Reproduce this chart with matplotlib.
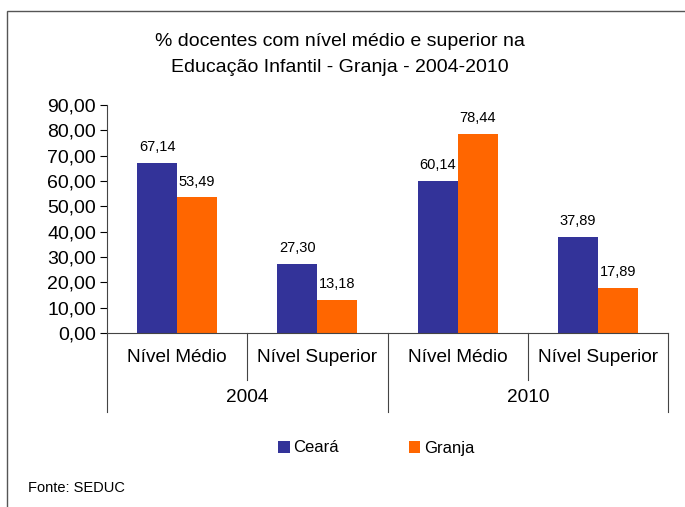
import numpy as np
import matplotlib
matplotlib.use('Agg')
import matplotlib.pyplot as plt
from matplotlib.patches import Rectangle

plt.rcParams['font.family'] = ['Liberation Sans', 'DejaVu Sans']

# dados
anos = ['2004', '2010']
niveis = ['Nível Médio', 'Nível Superior', 'Nível Médio', 'Nível Superior']
ceara = [67.14, 27.30, 60.14, 37.89]
granja = [53.49, 13.18, 78.44, 17.89]
series = ['Ceará', 'Granja']
cores = ['#333399', '#FF6600']

def br(v):
    return f"{v:.2f}".replace('.', ',')

fig = plt.figure(figsize=(6.85, 5.07), dpi=100)
W, H = 685, 507
ax = fig.add_axes([107/W, 1-333/H, (668-107)/W, (333-105)/H])

x = np.arange(len(niveis))
w = 0.286
b1 = ax.bar(x - w/2, ceara, w, color=cores[0], label=series[0])
b2 = ax.bar(x + w/2, granja, w, color=cores[1], label=series[1])
for bars, vals in [(b1, ceara), (b2, granja)]:
    for r, v in zip(bars, vals):
        ax.text(r.get_x() + r.get_width()/2, v + 3.5, br(v), ha='center', va='bottom', fontsize=10.5)

ax.set_xlim(-0.5, len(niveis) - 0.5)
ax.set_ylim(0, 90)
ax.set_yticks(np.arange(0, 91, 10))
ax.set_yticklabels([br(v) for v in np.arange(0, 91, 10)], fontsize=14)
ax.tick_params(axis='y', length=5, width=0.8, pad=3)
ax.set_xticks([])
for s in ['top', 'right']:
    ax.spines[s].set_visible(False)
ax.spines['left'].set_color('#444444')
ax.spines['bottom'].set_color('#444444')

# rótulos de categoria em dois níveis
trans = ax.get_xaxis_transform()
for i, n in enumerate(niveis):
    ax.text(i, -24/228, n, transform=trans, ha='center', va='center', fontsize=13.7)
for j, a in enumerate(anos):
    ax.text(2*j + 0.5, -64/228, a, transform=trans, ha='center', va='center', fontsize=13.7)
for xs in [0.5, 2.5]:
    ax.plot([xs, xs], [0, -47/228], transform=trans, color='#444444', lw=0.8, clip_on=False)
for xs in [-0.5, 1.5, 3.5]:
    ax.plot([xs, xs], [0, -79/228], transform=trans, color='#444444', lw=0.8, clip_on=False)

fig.text(340/W, 1-42/H, '% docentes com nível médio e superior na', ha='center', va='center', fontsize=14)
fig.text(340/W, 1-67/H, 'Educação Infantil - Granja - 2004-2010', ha='center', va='center', fontsize=14)

# legenda
fig.legend(handles=[b1, b2], labels=series, loc='center', bbox_to_anchor=(376/W, 1-448/H),
           ncol=2, frameon=False, fontsize=12, handlelength=0.7, handleheight=0.7,
           handletextpad=0.2, columnspacing=4.2)

fig.text(28/W, 1-488/H, 'Fonte: SEDUC', ha='left', va='center', fontsize=10.5)

# moldura
fig.patches.append(Rectangle((7/W, -0.1), 1.2, 1-11/H + 0.1, transform=fig.transFigure,
                             fill=False, edgecolor='#555555', lw=1.0))

fig.savefig('out.png', dpi=100)
